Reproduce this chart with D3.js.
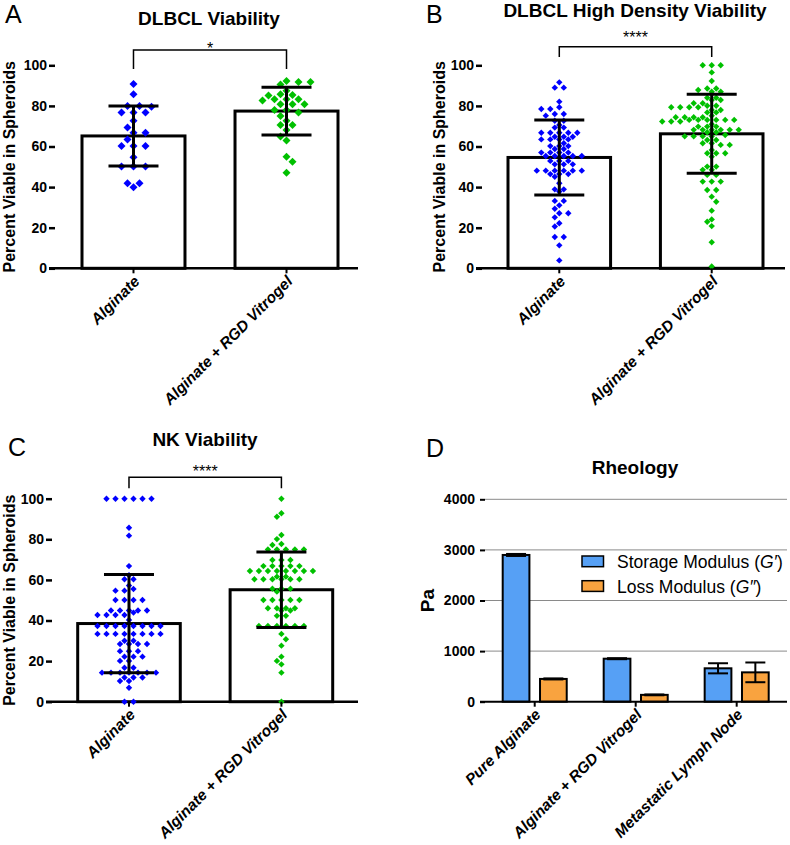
<!DOCTYPE html>
<html><head><meta charset="utf-8">
<script src="https://cdn.jsdelivr.net/npm/d3@7"></script>
<style>body{margin:0;background:#fff}</style>
</head><body><svg id="c" width="790" height="845"></svg>
<script>
// ---------- DATA ----------
const groups = ["Alginate", "Alginate + RGD Vitrogel"];
const yTicks = [0, 20, 40, 60, 80, 100];

const aBlue = [90.8, 85.7, 80, 79.6, 80, 76.8, 76.8, 76.8, 72.7, 69.3, 66.8, 66.8, 63.5, 60.3, 60.3, 60.3, 54.7, 50.1, 50.1, 50.1, 41.9, 39.9, 41.9];
const aGreen = [85.7, 91.8, 90.6, 91.8, 92.3, 85.1, 83.3, 83.3, 83.3, 85.4, 87.5, 82.6, 80.8, 80.8, 80.8, 78.0, 76.8, 78.0, 75.0, 70.6, 70.6, 72.7, 68.1, 62.9, 64.9, 55.0, 52.5, 47.1];
const aMean = [65.2, 77.45];
const aSD = [14.8, 11.75];

const bBlue = [91.6, 89.0, 89.0, 82.1, 79.3, 78.5, 78.5, 76.0, 76.0, 75.2, 72.7, 72.7, 70.6, 69.3, 69.3,
  66.8, 66.8, 66.8, 66.8, 66.8, 64.8, 64.8, 64.8, 63.5, 63.5, 63.5, 63.5, 61.6, 60.2, 60.2, 60.2, 58.8, 58.8,
  57.0, 57.0, 57.0, 57.0, 55.3, 55.3, 55.3, 55.3, 55.3, 52.9, 52.9, 52.9, 51.2, 51.2, 51.2,
  48.1, 48.1, 48.1, 48.1, 48.1, 48.1, 46.4, 46.4, 46.4, 45.1, 41.9, 38.9, 38.9, 37.8, 33.2, 33.2, 31.0, 29.3,
  27.1, 27.1, 25.1, 22.2, 20.6, 15.4, 15.4, 11.3, 3.9];
const bGreen = [100, 100, 100, 96.5, 92.3, 88.6, 88.6, 87.8, 87.0, 87.0, 84.0, 84.0, 82.9, 82.9, 81.3, 81.3, 80.1, 80.1,
  79.3, 79.3, 79.3, 79.3, 78.0, 78.0, 76.8, 76.8, 75.2, 74.4, 74.4, 74.4, 74.4, 73.1, 73.1, 73.1, 73.1, 73.1, 73.1,
  72.3, 72.3, 72.3, 71.0, 69.8, 69.8, 69.8, 68.2, 68.2, 68.2, 68.2, 68.2, 68.2, 67.0, 67.0, 65.7, 65.0, 65.0, 65.0, 65.0,
  63.2, 63.2, 61.6, 61.6, 60.8, 60.8, 58.3, 56.7, 56.7, 56.7, 55.0, 50.1, 50.1, 48.5, 48.5, 46.0, 46.0, 42.7, 42.7, 42.7,
  38.6, 38.6, 35.3, 32.8, 28.4, 24.1, 22.9, 20.8, 12.8, 0.9];
const bMean = [54.6, 66.25];
const bSD = [18.5, 19.45];

const cBlue = [100, 100, 100, 100, 100, 100, 85.7, 81.8, 66.8, 62.3, 60.3, 60.3, 57.2, 55.5, 54.7, 54.7,
  50.1, 50.1, 50.1, 50.1, 44.9, 44.9, 44.9, 44.9, 44.9, 43.9, 42.7, 42.7, 42.7, 42.7, 40.3,
  37.3, 37.3, 37.3, 37.3, 37.3, 37.3, 37.3, 37.3, 33.4, 33.4, 33.4, 33.4, 33.4, 33.4, 33.4, 33.4,
  30.0, 30.0, 28.4, 28.4, 28.4, 28.4, 24.9, 24.9, 24.9, 22.2, 22.2, 22.2, 20.1, 20.1, 16.7, 16.7,
  14.3, 14.3, 14.3, 14.3, 14.3, 14.3, 14.3, 11.9, 11.9, 11.9, 10.2, 10.2, 6.9, 0, 0];
const cGreen = [100, 92.8, 91.1, 82.1, 80.1, 77.7, 77.2, 75, 75, 75, 75, 75, 69.8, 69.8, 69.8,
  66.8, 66.8, 66.8, 66.8, 66.8, 64.4, 64.4, 64.4, 64.4, 64.4, 64.4, 64.4, 64.4, 61.6, 61.6,
  60.3, 60.3, 60.3, 60.3, 60.3, 60.3, 55.7, 55.7, 55.7, 54.2, 50.1, 50.1, 50.1, 50.1, 50.1,
  46.0, 46.0, 46.0, 46.0, 44.9, 44.9, 42.3, 42.3, 37.3, 37.3, 37.3, 37.3, 37.3, 37.3,
  33.4, 30.8, 27.6, 22.2, 20.1, 18.4, 14.3, 0];
const cMean = [38.5, 55.15];
const cSD = [24.2, 18.55];

const rheoCats = ["Pure Alginate", "Alginate + RGD Vitrogel", "Metastatic Lymph Node"];
const rheoSeries = ["storage", "loss"];
const storage = [2900, 850, 660];
const storageErr = [20, 10, 100];
const loss = [450, 135, 580];
const lossErr = [10, 8, 195];
const paTicks = [0, 1000, 2000, 3000, 4000];

// ---------- DRAWING ----------
const FONT = 'Arial, "Liberation Sans", Helvetica, sans-serif';
const svg = d3.select("#c").style("font-family", FONT);
const pointColors = ["#0000ff", "#00c000"];

function diamond(r) { return `M0,${-r}L${r},0L0,${r}L${-r},0Z`; }

// Prism-like column scatter: equal values form centred rows; neighbouring rows interleave at half steps
function swarm(values, cx, y, s, h1, h2) {
  const sorted = values.slice().sort((a, b) => b - a);
  const clusters = [];
  sorted.forEach(v => {
    const last = clusters[clusters.length - 1];
    if (last && last.v === v) last.n++; else clusters.push({ v, n: 1 });
  });
  const placed = [];
  const hit = (x, py) => placed.some(p => {
    const dx = Math.abs(p.x - x), dy = Math.abs(p.y - py);
    return (dy < h1 && dx < s * 0.95) || (dy < h2 && dx < s * 0.45);
  });
  clusters.forEach((c, ci) => {
    const py = y(c.v);
    const sign = ci % 2 ? 1 : -1;
    for (let k = 0; k < 80; k++) {
      const step = Math.ceil(k / 2) * (k % 2 ? sign : -sign);
      const shift = step * s / 2;
      const xs = d3.range(c.n).map(i => cx + shift + (i - (c.n - 1) / 2) * s);
      if (xs.every(x => !hit(x, py))) { xs.forEach(x => placed.push({ x, y: py })); break; }
    }
  });
  return placed;
}

function scatterPanel(cfg) {
  const g = svg.append("g");
  const y = d3.scaleLinear().domain([0, 100]).range([cfg.y0, cfg.y100]);
  const x = d3.scaleBand().domain(groups).range(cfg.barRange).paddingInner(0.327);
  const bw = x.bandwidth();

  g.append("text").attr("x", cfg.lx).attr("y", cfg.ly).attr("font-size", 25).text(cfg.letter);
  g.append("text").attr("x", cfg.tx).attr("y", cfg.ty).attr("text-anchor", "middle")
    .attr("font-size", 19).attr("font-weight", "bold").text(cfg.title);
  g.append("text").attr("transform", `translate(${cfg.ylabX},${(cfg.y0 + cfg.y100) / 2}) rotate(-90)`)
    .attr("text-anchor", "middle").attr("font-size", 16).attr("font-weight", "bold")
    .text("Percent Viable in Spheroids");

  const ax = g.append("g").attr("transform", `translate(${cfg.yAxisX},0)`)
    .call(d3.axisLeft(y).tickValues(yTicks).tickSize(6).tickPadding(2));
  ax.select(".domain").remove();
  ax.selectAll("line").attr("stroke", "#000").attr("stroke-width", 2.5);
  ax.selectAll("text").attr("font-size", 14).attr("font-weight", "bold").attr("font-family", FONT).attr("fill", "#000");

  g.append("line").attr("x1", cfg.yAxisX - 6).attr("x2", cfg.xEnd).attr("y1", y(0)).attr("y2", y(0))
    .attr("stroke", "#000").attr("stroke-width", 2.5);

  g.selectAll("rect.bar").data(groups).join("rect").attr("class", "bar")
    .attr("x", d => x(d)).attr("width", bw)
    .attr("y", (d, i) => y(cfg.means[i])).attr("height", (d, i) => y(0) - y(cfg.means[i]))
    .attr("fill", "#fff").attr("stroke", "#000").attr("stroke-width", 3);

  groups.forEach((grp, i) => {
    const cx = x(grp) + bw / 2;
    const pts = swarm(cfg.series[i], cx, y, cfg.s, cfg.h1, cfg.h2);
    g.append("g").selectAll("path").data(pts).join("path")
      .attr("transform", p => `translate(${p.x},${p.y})`)
      .attr("d", diamond(cfg.r)).attr("fill", pointColors[i]);
  });

  groups.forEach((grp, i) => {
    const cx = x(grp) + bw / 2;
    const top = y(cfg.means[i] + cfg.sds[i]), bot = y(cfg.means[i] - cfg.sds[i]);
    const eg = g.append("g").attr("stroke", "#000").attr("stroke-width", 3);
    eg.append("line").attr("x1", cx).attr("x2", cx).attr("y1", top).attr("y2", bot);
    [top, bot].forEach(yy => eg.append("line").attr("x1", cx - 25).attr("x2", cx + 25).attr("y1", yy).attr("y2", yy));
  });

  groups.forEach(grp => {
    const cx = x(grp) + bw / 2;
    g.append("line").attr("x1", cx).attr("x2", cx).attr("y1", y(0)).attr("y2", y(0) + 5)
      .attr("stroke", "#000").attr("stroke-width", 2);
    g.append("text").attr("transform", `translate(${cx + 7},${y(0) + 14}) rotate(-45)`)
      .attr("text-anchor", "end").attr("font-size", 15.5).attr("font-weight", "bold").attr("font-style", "italic")
      .text(grp);
  });

  const c1 = x(groups[0]) + bw / 2, c2 = x(groups[1]) + bw / 2;
  g.append("path").attr("d", `M${c1},${cfg.brLeg}V${cfg.brY}H${c2}V${cfg.brLeg}`)
    .attr("fill", "none").attr("stroke", "#000").attr("stroke-width", 1.5);
  g.append("text").attr("x", (c1 + c2) / 2).attr("y", cfg.starY).attr("text-anchor", "middle")
    .attr("font-size", 16).text(cfg.stars);
}

scatterPanel({ letter: "A", lx: 5, ly: 23, title: "DLBCL Viability", tx: 209, ty: 25, ylabX: 15,
  yAxisX: 55, xEnd: 358, y0: 268.3, y100: 65.3, barRange: [82, 338],
  series: [aBlue, aGreen], means: aMean, sds: aSD, stars: "*", brY: 50, brLeg: 69, starY: 54, r: 4, s: 12, h1: 3, h2: 7 });
scatterPanel({ letter: "B", lx: 426, ly: 23, title: "DLBCL High Density Viability", tx: 635, ty: 17, ylabX: 445,
  yAxisX: 482, xEnd: 785, y0: 268.3, y100: 65.3, barRange: [508, 763],
  series: [bBlue, bGreen], means: bMean, sds: bSD, stars: "****", brY: 46.7, brLeg: 57, starY: 43, r: 3.2, s: 9, h1: 2, h2: 5.5 });
scatterPanel({ letter: "C", lx: 8, ly: 456, title: "NK Viability", tx: 205, ty: 446, ylabX: 15,
  yAxisX: 52, xEnd: 358, y0: 701.7, y100: 498.7, barRange: [77.7, 332.7],
  series: [cBlue, cGreen], means: cMean, sds: cSD, stars: "****", brY: 477.3, brLeg: 488.3, starY: 477, r: 3.2, s: 9, h1: 2, h2: 5.5 });

// ---------- Panel D ----------
(function () {
  const g = svg.append("g");
  const y = d3.scaleLinear().domain([0, 4000]).range([701.7, 499.3]);
  const x0 = d3.scaleBand().domain(rheoCats).range([502.7, 768.7]).paddingInner(0.366);
  const x1 = d3.scaleBand().domain(rheoSeries).range([0, x0.bandwidth()]).paddingInner(0.284);
  const colors = { storage: "#56a0f5", loss: "#f9a33f" };
  const vals = { storage, loss };
  const errs = { storage: storageErr, loss: lossErr };

  g.append("text").attr("x", 426).attr("y", 457).attr("font-size", 25).text("D");
  g.append("text").attr("x", 635).attr("y", 474).attr("text-anchor", "middle")
    .attr("font-size", 19).attr("font-weight", "bold").text("Rheology");
  g.append("text").attr("transform", `translate(434,${(701.7 + 499.3) / 2}) rotate(-90)`)
    .attr("text-anchor", "middle").attr("font-size", 19).attr("font-weight", "bold").text("Pa");

  g.selectAll("line.grid").data(paTicks.filter(t => t > 0)).join("line").attr("class", "grid")
    .attr("x1", 485).attr("x2", 787).attr("y1", d => y(d)).attr("y2", d => y(d))
    .attr("stroke", "#8a8a8a").attr("stroke-width", 1);

  const ax = g.append("g").attr("transform", "translate(485,0)")
    .call(d3.axisLeft(y).tickValues(paTicks).tickFormat(d3.format("d")).tickSize(5).tickPadding(5));
  ax.select(".domain").remove();
  ax.selectAll("line").attr("stroke", "#000").attr("stroke-width", 2);
  ax.selectAll("text").attr("font-size", 14).attr("font-weight", "bold").attr("font-family", FONT).attr("fill", "#000");

  rheoCats.forEach((cat, i) => {
    rheoSeries.forEach(s => {
      const bx = x0(cat) + x1(s), bw = x1.bandwidth();
      const v = vals[s][i], e = errs[s][i];
      g.append("rect").attr("x", bx).attr("width", bw).attr("y", y(v)).attr("height", y(0) - y(v))
        .attr("fill", colors[s]).attr("stroke", "#000").attr("stroke-width", 2);
      const cx = bx + bw / 2;
      const eg = g.append("g").attr("stroke", "#000").attr("stroke-width", 2);
      eg.append("line").attr("x1", cx).attr("x2", cx).attr("y1", y(v + e)).attr("y2", y(v - e));
      [v + e, v - e].forEach(t => eg.append("line").attr("x1", cx - 10).attr("x2", cx + 10).attr("y1", y(t)).attr("y2", y(t)));
    });
  });

  g.append("line").attr("x1", 480).attr("x2", 787).attr("y1", y(0)).attr("y2", y(0))
    .attr("stroke", "#000").attr("stroke-width", 2);
  rheoCats.forEach(cat => {
    const cx = x0(cat) + x0.bandwidth() / 2;
    g.append("line").attr("x1", cx).attr("x2", cx).attr("y1", y(0)).attr("y2", y(0) + 5)
      .attr("stroke", "#000").attr("stroke-width", 2);
    g.append("text").attr("transform", `translate(${cx + 7},${y(0) + 14}) rotate(-45)`)
      .attr("text-anchor", "end").attr("font-size", 15.5).attr("font-weight", "bold").attr("font-style", "italic")
      .text(cat);
  });

  const leg = [{ s: "storage", label: "Storage Modulus (", sym: "G′" }, { s: "loss", label: "Loss Modulus (", sym: "G″" }];
  leg.forEach((d, i) => {
    const ly = 556 + i * 24.7;
    g.append("rect").attr("x", 582).attr("y", ly).attr("width", 21.5).attr("height", 10.7)
      .attr("fill", colors[d.s]).attr("stroke", "#000").attr("stroke-width", 1.5);
    const t = g.append("text").attr("x", 617).attr("y", ly + 12).attr("font-size", 17.5);
    t.append("tspan").text(d.label);
    t.append("tspan").attr("font-style", "italic").text(d.sym);
    t.append("tspan").text(")");
  });
})();
</script>
</body></html>
